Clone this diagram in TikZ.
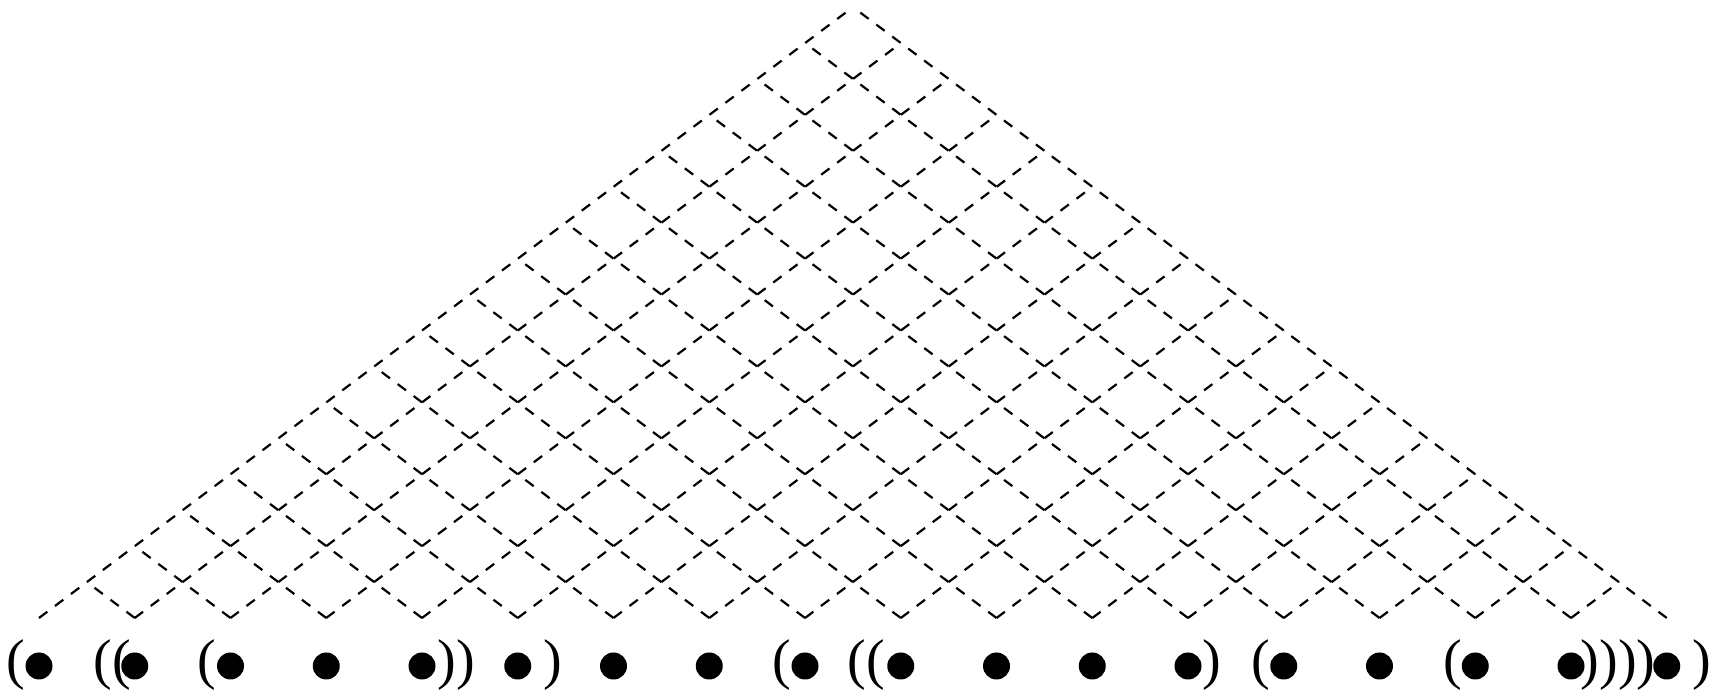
\documentclass[tikz,border=0pt]{standalone}
\usepackage{fontspec}
\setmainfont{Liberation Serif}
\begin{document}
\begin{tikzpicture}[x=0.5pt,y=0.5pt,
  gridline/.style={line width=1.1pt, dash pattern=on 5.2pt off 4.78pt},
  dotnode/.style={circle, fill=black, inner sep=0pt, minimum size=13.5pt},
  paren/.style={inner sep=0pt, anchor=base, font=\fontsize{28}{30}\selectfont}]
\useasboundingbox (0,0) rectangle (1721,691);
% lattice coordinates
\foreach \i in {0,...,17}{
  \coordinate (b\i) at ({39+95.75*\i},73);
  \coordinate (l\i) at ({39+47.875*\i},{73+35.941*\i});
  \coordinate (r\i) at ({1667-47.875*\i},{73+35.941*\i});
}
% grid lines
\foreach \i in {0,...,16}{
  \pgfmathtruncatemacro{\m}{17-\i}
  \draw[gridline] (b\i) -- (r\m);
}
\foreach \i in {1,...,17}{
  \draw[gridline] (b\i) -- (l\i);
}
% parentheses
\node[paren] (p1) at (15.5,12.6) {(};
\node[paren] (p2) at (112.5,12.6) {((};
\node[paren] (p3) at (206.5,12.6) {(};
\node[paren] (p4) at (456.5,12.6) {))};
\node[paren] (p5) at (552.5,12.6) {)};
\node[paren] (p6) at (782,12.6) {(};
\node[paren] (p7) at (866.5,12.6) {((};
\node[paren] (p8) at (1212,12.6) {)};
\node[paren] (p9) at (1261,12.6) {(};
\node[paren] (p10) at (1452.5,12.6) {(};
\node[paren] (p11) at (1618,12.6) {))))};
\node[paren] (p12) at (1701.5,12.6) {)};
% dots
\foreach \i in {0,...,17}{
  \node[dotnode] (d\i) at ({39+95.75*\i},25) {};
}
\end{tikzpicture}
\end{document}
